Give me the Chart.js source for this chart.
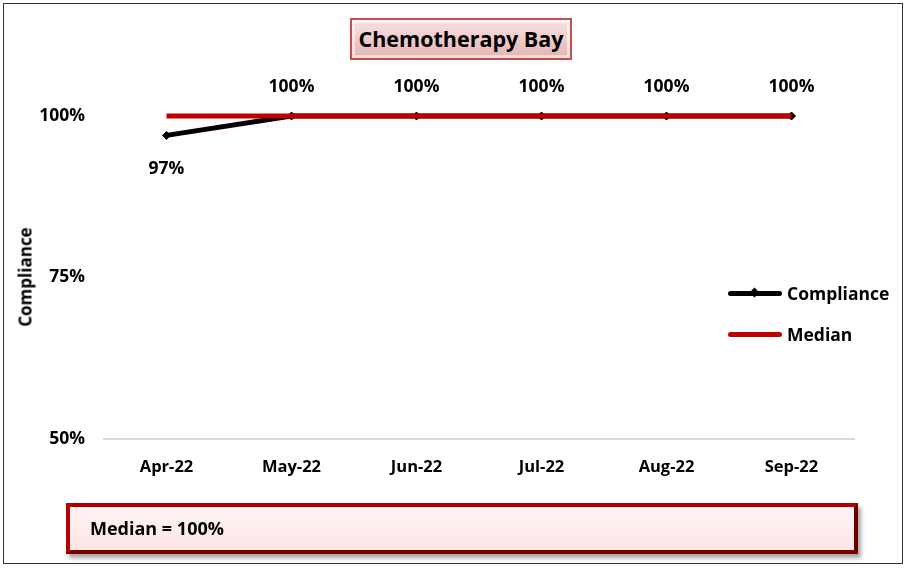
<!DOCTYPE html>
<html>
<head>
<meta charset="utf-8">
<script src="https://cdn.jsdelivr.net/npm/chart.js@4"></script>
<style>
  body { margin: 0; background: #fff; font-family: "Open Sans", sans-serif; }
  #wrap { position: relative; width: 908px; height: 569px; }
  #frame { position: absolute; left: 3px; top: 3px; width: 900px; height: 561px; border: 1px solid #333; box-sizing: border-box; }
  canvas { position: absolute; left: 0; top: 0; }
  #title {
    position: absolute; left: 350px; top: 18px; width: 222px; height: 42px; box-sizing: border-box;
    border: 2px solid #c0504d; background: linear-gradient(#f9e3e3, #e3b4b3);
    box-shadow: inset 0 0 0 3px rgba(255,255,255,0.5);
    font-weight: 700; font-size: 21.5px; line-height: 38px; text-align: center; color: #000;
  }
  #ytitle {
    position: absolute; left: 25px; top: 277px; transform: translate(-50%, -50%) rotate(-90deg);
    font-weight: 700; font-size: 17px; white-space: nowrap;
  }
  .leg { position: absolute; left: 728px; font-weight: 700; font-size: 17.5px; height: 20px; line-height: 20px; }
  .leg i { position: absolute; left: 0; top: 8px; width: 54px; height: 5px; border-radius: 3px; }
  .leg b { position: absolute; left: 23px; top: 6px; width: 7px; height: 7px; background: #000; transform: rotate(45deg); }
  .leg span { position: absolute; left: 59px; white-space: nowrap; }
  #note {
    position: absolute; left: 66px; top: 503px; width: 792px; height: 51px; box-sizing: border-box;
    border: 4px solid #b00000; border-right-color: #6a0000; border-bottom-color: #7a0000;
    background: linear-gradient(#fff3f3, #fde6e6); box-shadow: 3px 4px 4px rgba(0,0,0,0.35);
    font-weight: 700; font-size: 18px; line-height: 43px; padding-left: 20px;
  }
</style>
</head>
<body>
<div id="wrap">
  <div id="frame"></div>
  <canvas id="chart" width="908" height="569"></canvas>
  <div id="title">Chemotherapy Bay</div>
  <div id="ytitle">Compliance</div>
  <div class="leg" style="top:283px"><i style="background:#000"></i><b></b><span>Compliance</span></div>
  <div class="leg" style="top:324px"><i style="background:#c00000"></i><span>Median</span></div>
  <div id="note">Median = 100%</div>
</div>
<script>
const months = ['Apr-22', 'May-22', 'Jun-22', 'Jul-22', 'Aug-22', 'Sep-22'];
const compliance = [97, 100, 100, 100, 100, 100];
const median = [100, 100, 100, 100, 100, 100];
const yTicks = [50, 75, 100];

// labels above/below the compliance points
const pointLabels = {
  id: 'pointLabels',
  afterDatasetsDraw(chart) {
    const ctx = chart.ctx;
    const meta = chart.getDatasetMeta(1);
    ctx.save();
    ctx.font = 'bold 17.5px "Open Sans", sans-serif';
    ctx.fillStyle = '#000';
    ctx.textAlign = 'center';
    ctx.textBaseline = 'middle';
    meta.data.forEach((pt, i) => {
      const v = compliance[i];
      const dy = v < median[i] ? 34 : -29;
      ctx.fillText(v + '%', pt.x, pt.y + dy);
    });
    ctx.restore();
  }
};

new Chart(document.getElementById('chart').getContext('2d'), {
  type: 'line',
  data: {
    labels: months,
    datasets: [
      {
        label: 'Median',
        data: median,
        borderColor: '#c00000',
        borderWidth: 5,
        pointRadius: 0,
        order: 0,
        clip: false
      },
      {
        label: 'Compliance',
        data: compliance,
        borderColor: '#000',
        backgroundColor: '#000',
        borderWidth: 5,
        pointStyle: 'rectRot',
        pointRadius: 4,
        pointBorderWidth: 1,
        order: 1,
        clip: false
      }
    ]
  },
  options: {
    responsive: false,
    animation: false,
    layout: { padding: { top: 116, right: 54, left: 0, bottom: 0 } },
    plugins: { legend: { display: false }, tooltip: { enabled: false } },
    scales: {
      x: {
        offset: true,
        grid: { display: false },
        border: { color: '#d9d9d9', width: 2 },
        ticks: { color: '#000', font: { family: 'Open Sans', weight: 'bold', size: 16.5 }, padding: 10, maxRotation: 0 },
        afterFit(s) { s.height = 130; }
      },
      y: {
        min: 50,
        max: 100,
        grid: { display: false },
        border: { display: false },
        afterBuildTicks(s) { s.ticks = yTicks.map(v => ({ value: v })); },
        ticks: {
          color: '#000',
          font: { family: 'Open Sans', weight: 'bold', size: 17.5 },
          padding: 11,
          callback: v => v + '%'
        },
        afterFit(s) { s.width = 104; }
      }
    }
  },
  plugins: [pointLabels]
});
</script>
</body>
</html>
